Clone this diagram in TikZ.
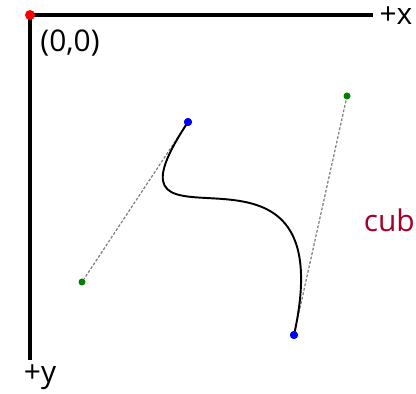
\documentclass[tikz,border=0pt]{standalone}
\usepackage{fontspec}
\setmainfont{Open Sans}
\usetikzlibrary{positioning}
\definecolor{cubred}{RGB}{165,0,38}
\definecolor{ctrlgreen}{RGB}{0,128,0}
\tikzset{
  pnt/.style={
    inner sep = 0cm,
    minimum size = 0.16cm,
    shape = circle,
    fill
  },
  axis/.style={
    line width = 2.2pt,
  },
  helper/.style={
    draw = gray,
    line width = 0.7pt,
    dash pattern = on 1.6pt off 1pt,
  },
  bez/.style={
    line width = 1.1pt,
  },
  every node/.style = {
    font = \fontsize{17}{19}\selectfont,
    inner sep = 0pt
  },
}

\begin{document}
\begin{tikzpicture}[x=0.02cm,y=-0.02cm]
\useasboundingbox (0,0) rectangle (416,394);
\coordinate (xend) at (373,15);
\coordinate (yend) at (30,360);
\draw[axis] (xend) -| (yend);
\node[pnt, fill=red, minimum size=0.2cm] (orig) at (30,15) {};
\node (xlab) at (396,16) {+x};
\node (ylab) at (40,377) {+y};
\node (olab) at (70,43) {(0,0)};
\node[anchor=east, text=cubred] (cub) at (415,220) {cub};
% end points and control points
\node[pnt, fill=blue] (start) at (188,122) {};
\node[pnt, fill=ctrlgreen, minimum size=0.14cm] (ctrla) at (82,282) {};
\node[pnt, fill=ctrlgreen, minimum size=0.14cm] (ctrlb) at (347,96) {};
\node[pnt, fill=blue] (stop) at (294,335) {};
\draw[helper] (start) -- (ctrla);
\draw[helper] (stop) -- (ctrlb);
\draw[bez] (start.center) .. controls (ctrla.center) and (ctrlb.center) .. (stop.center);
\node[pnt, fill=blue] at (start) {};
\node[pnt, fill=blue] at (stop) {};
\end{tikzpicture}
\end{document}
